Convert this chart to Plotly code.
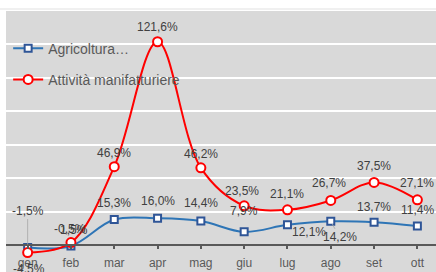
import plotly.graph_objects as go

months = ["gen", "feb", "mar", "apr", "mag", "giu", "lug", "ago", "set", "ott"]
agricoltura = [-1.5, -0.5, 15.3, 16.0, 14.4, 7.9, 12.1, 14.2, 13.7, 11.4]
manifatturiere = [-4.5, 1.5, 46.9, 121.6, 46.2, 23.5, 21.1, 26.7, 37.5, 27.1]
name_agri = "Agricoltura…"
name_manif = "Attività manifatturiere"

# label offsets in pixels (dx, dy) relative to each point
agri_off = [(0, 37), (-1, 17), (0, 17), (0, 17), (0, 18), (0, 21), (22, -7), (9, -16), (0, 15), (0, 16)]
manif_off = [(1, -16), (3, 13), (0, 14), (0, 15), (0, 14), (-2, 15), (0, 16), (-2, 17), (0, 16), (0, 17)]

def fmt(v):
    return f"{v:.1f}%".replace(".", ",")

FONT = "Liberation Sans, Arial, sans-serif"
TXT = "#404040"

fig = go.Figure()
fig.add_trace(go.Scatter(
    x=months, y=agricoltura, name=name_agri, mode="lines+markers",
    line=dict(color="#2E75B6", width=2, shape="spline", smoothing=1),
    marker=dict(symbol="square", size=7, color="white", line=dict(color="#2F5597", width=2)),
    legendgroup="a",
))
fig.add_trace(go.Scatter(
    x=months, y=manifatturiere, name=name_manif, mode="lines+markers",
    line=dict(color="#FF0000", width=2, shape="spline", smoothing=1),
    marker=dict(symbol="circle", size=9, color="white", line=dict(color="#FF0000", width=2)),
    legendgroup="b",
))

annotations = []
for i, m in enumerate(months):
    dx, dy = agri_off[i]
    leader = m in ("gen", "ago")
    if leader:
        annotations.append(dict(
            x=m, y=agricoltura[i], text=fmt(agricoltura[i]), showarrow=True,
            ax=dx, ay=-dy, axref="pixel", ayref="pixel", arrowhead=0,
            arrowwidth=0.8, arrowcolor="#A6A6A6", standoff=3,
            font=dict(family=FONT, size=12, color=TXT)))
    else:
        annotations.append(dict(
            x=m, y=agricoltura[i], text=fmt(agricoltura[i]), showarrow=False,
            xshift=dx, yshift=dy, font=dict(family=FONT, size=12, color=TXT)))
    dx, dy = manif_off[i]
    annotations.append(dict(
        x=m, y=manifatturiere[i], text=fmt(manifatturiere[i]), showarrow=False,
        xshift=dx, yshift=dy, font=dict(family=FONT, size=12, color=TXT)))

fig.update_layout(
    width=436, height=272, autosize=False,
    margin=dict(l=6, r=0, t=11, b=0),
    paper_bgcolor="white", plot_bgcolor="#D9D9D9",
    showlegend=True,
    legend=dict(x=0.005, y=0.917, xanchor="left", yanchor="top",
                bgcolor="rgba(0,0,0,0)", tracegroupgap=10,
                font=dict(family=FONT, size=14, color="#595959"),
                itemwidth=30),
    annotations=annotations,
    shapes=[dict(type="line", xref="paper", yref="paper", x0=-0.02, x1=1.0,
                 y0=1.008, y1=1.008, line=dict(color="#EBEBEB", width=1.5))],
    xaxis=dict(
        type="category", range=[-0.5, 9.43], anchor="free", position=16.1 / 156.1,
        showline=True, linecolor="#595959", linewidth=2,
        ticks="outside", ticklen=3, tickwidth=2, tickcolor="#595959",
        ticklabelstandoff=4,
        showgrid=False, tickfont=dict(family=FONT, size=12, color="#595959"),
    ),
    yaxis=dict(
        range=[-16.1, 140], dtick=20, showticklabels=False, showgrid=True,
        gridcolor="white", gridwidth=2, zeroline=False, ticks="",
    ),
)

fig.write_html("out.html", config={"displayModeBar": False},
               post_script="document.body.style.margin='0';")
